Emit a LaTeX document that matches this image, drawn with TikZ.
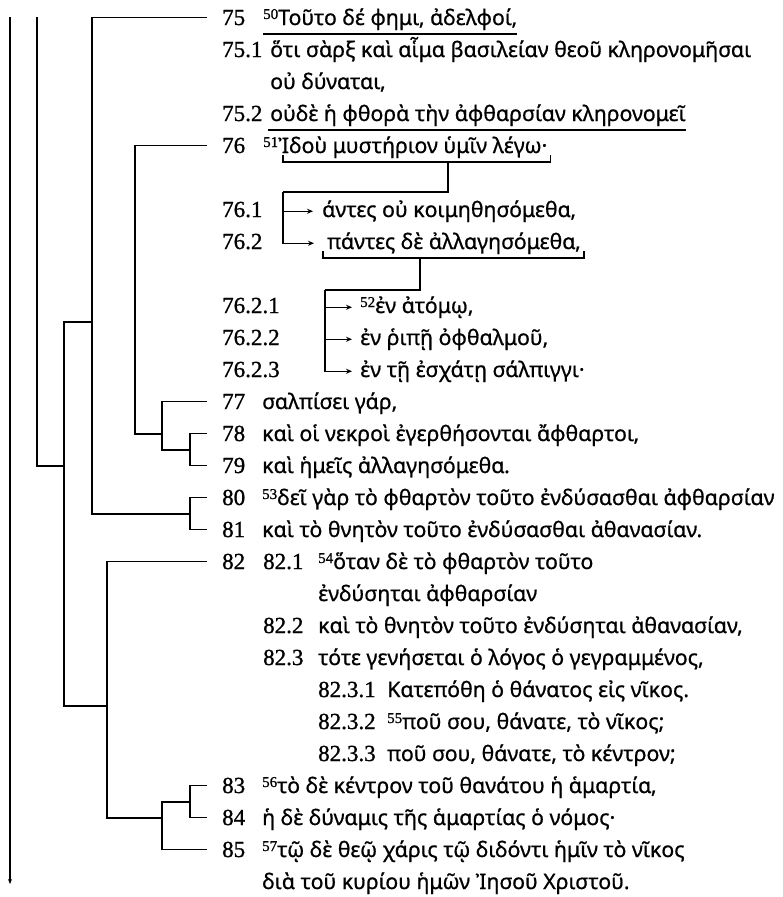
\documentclass[tikz,border=0pt]{standalone}
\usepackage{fontspec}
\setmainfont[FakeBold=0.8]{Noto Sans}
\newfontfamily\numfont[FakeBold=1]{Liberation Serif}
\usetikzlibrary{arrows.meta,calc}
\newcommand\versenum[1]{\raisebox{6pt}{\numfont\fontsize{15}{15}\selectfont #1}}
\begin{document}
\begin{tikzpicture}[x=1pt,y=-1pt,
  tree/.style={line width=1.4pt, line join=miter},
  arr/.style={line width=1.4pt, -{Stealth[length=6pt,width=5pt]}},
  uline/.style={line width=1.4pt},
  num/.style={anchor=base west, inner sep=0pt, font=\numfont\fontsize{23}{23}\selectfont},
  gk/.style={anchor=base west, inner sep=0pt, font=\fontsize{21.3}{21.3}\selectfont}]
\useasboundingbox[fill=white] (0,0) rectangle (782,897);

% number column
\node[num] (n75)   at (222,25)  {75};
\node[num] (n751)  at (222,57)  {75.1};
\node[num] (n752)  at (222,121) {75.2};
\node[num] (n76)   at (222,153) {76};
\node[num] (n761)  at (222,217) {76.1};
\node[num] (n762)  at (222,249) {76.2};
\node[num] (n7621) at (222,313) {76.2.1};
\node[num] (n7622) at (222,345) {76.2.2};
\node[num] (n7623) at (222,377) {76.2.3};
\node[num] (n77)   at (222,409) {77};
\node[num] (n78)   at (222,441) {78};
\node[num] (n79)   at (222,473) {79};
\node[num] (n80)   at (222,505) {80};
\node[num] (n81)   at (222,537) {81};
\node[num] (n82)   at (222,569) {82};
\node[num] (n821)  at (263,569) {82.1};
\node[num] (n822)  at (263,633) {82.2};
\node[num] (n823)  at (263,665) {82.3};
\node[num] (n8231) at (318,697) {82.3.1};
\node[num] (n8232) at (318,729) {82.3.2};
\node[num] (n8233) at (318,761) {82.3.3};
\node[num] (n83)   at (222,793) {83};
\node[num] (n84)   at (222,825) {84};
\node[num] (n85)   at (222,857) {85};

% texts
\node[gk] (t75)   at (263,25)  {\versenum{50}Τοῦτο δέ φημι, ἀδελφοί,};
\node[gk] (t751)  at (270,57)  {ὅτι σὰρξ καὶ αἷμα βασιλείαν θεοῦ κληρονομῆσαι};
\node[gk] (t751c) at (270,89)  {οὐ δύναται,};
\node[gk] (t752)  at (270,121) {οὐδὲ ἡ φθορὰ τὴν ἀφθαρσίαν κληρονομεῖ};
\node[gk] (t76)   at (263,153) {\versenum{51}Ἰδοὺ μυστήριον ὑμῖν λέγω·};
\node[gk] (t761)  at (322,217) {άντες οὐ κοιμηθησόμεθα,};
\node[gk] (t762)  at (327,249) {πάντες δὲ ἀλλαγησόμεθα,};
\node[gk] (t7621) at (360,313) {\versenum{52}ἐν ἀτόμῳ,};
\node[gk] (t7622) at (360,345) {ἐν ῥιπῇ ὀφθαλμοῦ,};
\node[gk] (t7623) at (360,377) {ἐν τῇ ἐσχάτῃ σάλπιγγι·};
\node[gk] (t77)   at (262,409) {σαλπίσει γάρ,};
\node[gk] (t78)   at (262,441) {καὶ οἱ νεκροὶ ἐγερθήσονται ἄφθαρτοι,};
\node[gk] (t79)   at (262,473) {καὶ ἡμεῖς ἀλλαγησόμεθα.};
\node[gk] (t80)   at (262,505) {\versenum{53}δεῖ γὰρ τὸ φθαρτὸν τοῦτο ἐνδύσασθαι ἀφθαρσίαν};
\node[gk] (t81)   at (262,537) {καὶ τὸ θνητὸν τοῦτο ἐνδύσασθαι ἀθανασίαν.};
\node[gk] (t821)  at (318,569) {\versenum{54}ὅταν δὲ τὸ φθαρτὸν τοῦτο};
\node[gk] (t821c) at (318,601) {ἐνδύσηται ἀφθαρσίαν};
\node[gk] (t822)  at (318,633) {καὶ τὸ θνητὸν τοῦτο ἐνδύσηται ἀθανασίαν,};
\node[gk] (t823)  at (318,665) {τότε γενήσεται ὁ λόγος ὁ γεγραμμένος,};
\node[gk] (t8231) at (387,697) {Κατεπόθη ὁ θάνατος εἰς νῖκος.};
\node[gk] (t8232) at (387,729) {\versenum{55}ποῦ σου, θάνατε, τὸ νῖκος;};
\node[gk] (t8233) at (387,761) {ποῦ σου, θάνατε, τὸ κέντρον;};
\node[gk] (t83)   at (262,793) {\versenum{56}τὸ δὲ κέντρον τοῦ θανάτου ἡ ἁμαρτία,};
\node[gk] (t84)   at (262,825) {ἡ δὲ δύναμις τῆς ἁμαρτίας ὁ νόμος·};
\node[gk] (t85)   at (262,857) {\versenum{57}τῷ δὲ θεῷ χάρις τῷ διδόντι ἡμῖν τὸ νῖκος};
\node[gk] (t85c)  at (262,889) {διὰ τοῦ κυρίου ἡμῶν Ἰησοῦ Χριστοῦ.};

% leaf ends
\foreach \n in {75,76,77,78,79,80,81,82,83,84,85}
  \coordinate (L\n) at ([xshift=-15pt]n\n.west);

% tree
\draw[tree,-{Stealth[length=5pt,width=4pt]}] (10,17) -- (10,884);
\draw[tree] (37,17) |- (64,466);
\draw[tree] (92,322) -| (64,706) -- (107,706);
\draw[tree] (L75) -| (92,514) -- (190,514);
\draw[tree] (L80) -- ++(-17,0) |- (L81);
\draw[tree] (L76) -| (135,434) -- (162,434);
\draw[tree] (L77) -| (162,450) -- (190,450);
\draw[tree] (L78) -- ++(-17,0) |- (L79);
\draw[tree] (L82) -| (107,818) -- (162,818);
\draw[tree] (L85) -| (162,802) -- (190,802);
\draw[tree] (L83) -- ++(-17,0) |- (L84);

% underlines
\draw[uline] ([shift={(0,9)}]t75.base west) -- ([shift={(0,9)}]t75.base east);
\draw[uline] ([shift={(-2,9)}]t752.base west) -- ([shift={(0,9)}]t752.base east);
% bracket under 76 and its box
\coordinate (b76l) at ([shift={(20,9)}]t76.base west);
\coordinate (b76r) at ([shift={(3,9)}]t76.base east);
\draw[uline] ([shift={(0,-7)}]b76l) -- (b76l) -- (b76r) -- ++(0,-7);
\coordinate (b76m) at (448,162);
\coordinate (k76) at (283,192);
\draw[tree] (b76m) -- (448,192) -- (k76);
\draw[arr] (k76) |- ([xshift=-9pt]t761.west);
\draw[arr] (k76) |- ([xshift=-13pt]t762.west);
% bracket under 76.2 and its box
\coordinate (b762l) at ([shift={(-4,9)}]t762.base west);
\coordinate (b762r) at ([shift={(3,9)}]t762.base east);
\draw[uline] ([shift={(0,-7)}]b762l) -- (b762l) -- (b762r) -- ++(0,-7);
\coordinate (k762) at (325,290);
\draw[tree] (420,258) -- (420,290) -- (k762);
\draw[arr] (k762) |- ([xshift=-8pt]t7621.west);
\draw[arr] (k762) |- ([xshift=-8pt]t7622.west);
\draw[arr] (k762) |- ([xshift=-8pt]t7623.west);
\end{tikzpicture}
\end{document}
